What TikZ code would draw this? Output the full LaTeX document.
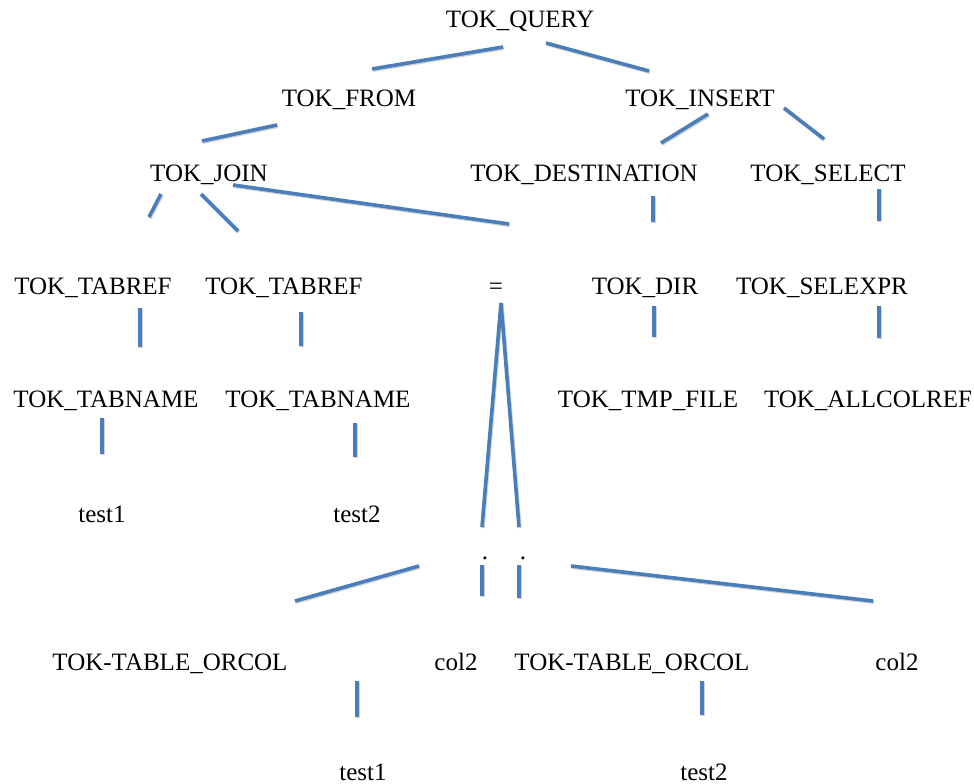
\documentclass[tikz,border=0pt]{standalone}
\usepackage{fontspec}
\setmainfont{Liberation Serif}
\definecolor{linkblue}{RGB}{74,126,187}
\begin{document}
\begin{tikzpicture}[x=1pt,y=-1pt,
  tok/.style={anchor=base,inner sep=0pt,font=\fontsize{25}{30}\selectfont},
  link/.style={draw=linkblue,line width=3.6pt},
  shade/.style={draw=black,opacity=0.18,line width=3.6pt,transform canvas={shift={(0.9pt,-1.2pt)}}},
]
\useasboundingbox (0,0) rectangle (974,784);

% parse tree tokens (placed on their baselines)
\node[tok] (query)   at (520,28)  {TOK\_QUERY};
\node[tok] (from)    at (349,106) {TOK\_FROM};
\node[tok] (insert)  at (700,106) {TOK\_INSERT};
\node[tok] (join)    at (209,181) {TOK\_JOIN};
\node[tok] (dest)    at (584,181) {TOK\_DESTINATION};
\node[tok] (select)  at (828,181) {TOK\_SELECT};
\node[tok] (tabrefA) at (93,294)  {TOK\_TABREF};
\node[tok] (tabrefB) at (284,294) {TOK\_TABREF};
\node[tok] (eq)      at (496,294) {=};
\node[tok] (dir)     at (645,294) {TOK\_DIR};
\node[tok] (selexpr) at (822,294) {TOK\_SELEXPR};
\node[tok] (tnameA)  at (106,407) {TOK\_TABNAME};
\node[tok] (tnameB)  at (318,407) {TOK\_TABNAME};
\node[tok] (tmpfile) at (648,407) {TOK\_TMP\_FILE};
\node[tok] (allcol)  at (868,407) {TOK\_ALLCOLREF};
\node[tok] (testA)   at (102,522) {test1};
\node[tok] (testB)   at (357,522) {test2};
\node[tok] (dotA)    at (485,559) {.};
\node[tok] (dotB)    at (523,559) {.};
\node[tok] (orcolA)  at (170,670) {TOK-TABLE\_ORCOL};
\node[tok] (colA)    at (456,670) {col2};
\node[tok] (orcolB)  at (632,670) {TOK-TABLE\_ORCOL};
\node[tok] (colB)    at (897,670) {col2};
\node[tok] (testC)   at (363,780) {test1};
\node[tok] (testD)   at (704,780) {test2};

% end points of the branch strokes
\coordinate (qf1) at (372,69);  \coordinate (qf2) at (503,47);
\coordinate (qi1) at (546,43);  \coordinate (qi2) at (649,71);
\coordinate (fj1) at (277,125); \coordinate (fj2) at (202,141);
\coordinate (id1) at (708,114); \coordinate (id2) at (661,143);
\coordinate (is1) at (784,108); \coordinate (is2) at (824,139);
\coordinate (ja1) at (161,194); \coordinate (ja2) at (149,217);
\coordinate (jb1) at (201,194); \coordinate (jb2) at (238,231);
\coordinate (je1) at (233,185); \coordinate (je2) at (509,224);
\coordinate (dd1) at (653,196); \coordinate (dd2) at (653,222);
\coordinate (ss1) at (879,189); \coordinate (ss2) at (879,221);
\coordinate (ta1) at (140,308); \coordinate (ta2) at (140,347);
\coordinate (tb1) at (301,312); \coordinate (tb2) at (301,346);
\coordinate (eqtop) at (501,303);
\coordinate (ea2) at (482,527);  \coordinate (eb2) at (519,527);
\coordinate (dt1) at (654,306); \coordinate (dt2) at (654,337);
\coordinate (sa1) at (879,306); \coordinate (sa2) at (879,338);
\coordinate (na1) at (102,418); \coordinate (na2) at (102,454);
\coordinate (nb1) at (355,423); \coordinate (nb2) at (355,457);
\coordinate (da1) at (482,565); \coordinate (da2) at (482,596);
\coordinate (db1) at (519,565); \coordinate (db2) at (519,598);
\coordinate (la1) at (419,566); \coordinate (la2) at (295,601);
\coordinate (ra1) at (571,566); \coordinate (ra2) at (873,601);
\coordinate (oa1) at (357,681); \coordinate (oa2) at (357,717);
\coordinate (ob1) at (702,681); \coordinate (ob2) at (702,715);

\foreach \s in {shade,link}{
  \draw[\s] (qf1) -- (qf2);
  \draw[\s] (qi1) -- (qi2);
  \draw[\s] (fj1) -- (fj2);
  \draw[\s] (id1) -- (id2);
  \draw[\s] (is1) -- (is2);
  \draw[\s] (ja1) -- (ja2);
  \draw[\s] (jb1) -- (jb2);
  \draw[\s] (je1) -- (je2);
  \draw[\s] (dd1) -- (dd2);
  \draw[\s] (ss1) -- (ss2);
  \draw[\s] (ta1) -- (ta2);
  \draw[\s] (tb1) -- (tb2);
  \draw[\s] (ea2) -- (eqtop) -- (eb2);
  \draw[\s] (dt1) -- (dt2);
  \draw[\s] (sa1) -- (sa2);
  \draw[\s] (na1) -- (na2);
  \draw[\s] (nb1) -- (nb2);
  \draw[\s] (da1) -- (da2);
  \draw[\s] (db1) -- (db2);
  \draw[\s] (la1) -- (la2);
  \draw[\s] (ra1) -- (ra2);
  \draw[\s] (oa1) -- (oa2);
  \draw[\s] (ob1) -- (ob2);
}
\end{tikzpicture}
\end{document}
